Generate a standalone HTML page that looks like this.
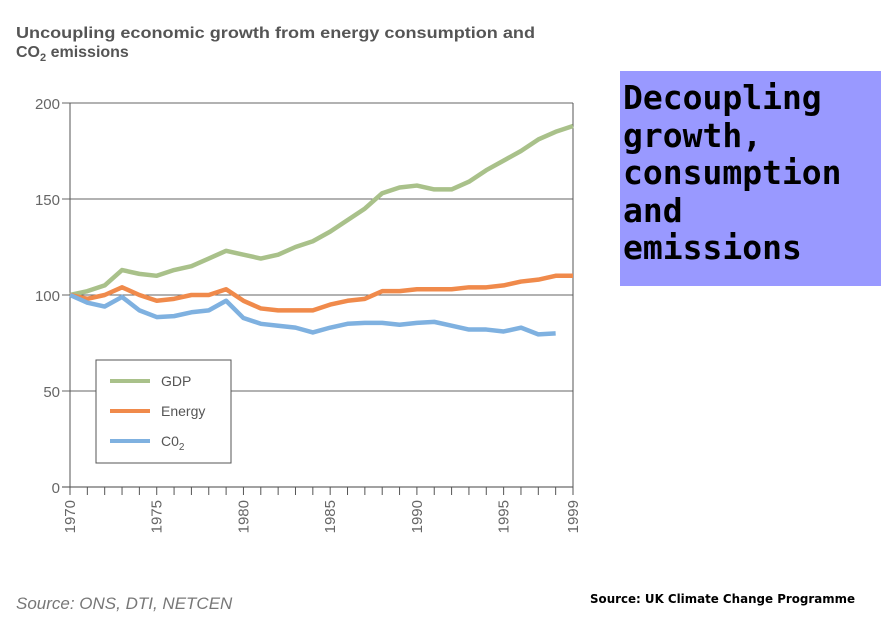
<!DOCTYPE html>
<html><head><meta charset="utf-8"><style>
body{margin:0;width:891px;height:630px;background:#fff;position:relative;overflow:hidden;font-family:"Liberation Sans",sans-serif}
#box{position:absolute;left:620px;top:71px;width:261px;height:215px;background:#9999ff}
#box div{position:absolute;left:3px;top:8px;font-family:"DejaVu Sans Mono",monospace;font-weight:bold;font-size:33px;line-height:37.5px;color:#000}
</style></head><body>
<svg width="891" height="630" style="position:absolute;left:0;top:0">
<text x="16" y="38" font-size="16" font-weight="bold" fill="#555" textLength="519" lengthAdjust="spacingAndGlyphs">Uncoupling economic growth from energy consumption and</text>
<text x="16" y="57" font-size="16" font-weight="bold" fill="#555">CO<tspan font-size="11" dy="4">2</tspan><tspan dy="-4"> emissions</tspan></text>
<g id="grid"></g><g id="series"></g>
<g>
<rect x="96" y="360" width="135" height="103" fill="#fff" stroke="#555" stroke-width="1"/>
<line x1="110" y1="381" x2="150" y2="381" stroke="#a9c18a" stroke-width="4"/>
<text x="161" y="386" font-size="14" fill="#555">GDP</text>
<line x1="110" y1="411" x2="150" y2="411" stroke="#f08a4b" stroke-width="4"/>
<text x="161" y="416" font-size="14" fill="#555">Energy</text>
<line x1="110" y1="441" x2="150" y2="441" stroke="#7fb1e0" stroke-width="4"/>
<text x="161" y="446" font-size="14" fill="#555">C0<tspan font-size="10" dy="4">2</tspan></text>
</g>
<text x="16" y="609" font-size="17" font-style="italic" fill="#777">Source: ONS, DTI, NETCEN</text>
<text x="590" y="603" font-size="12" font-weight="bold" fill="#000" font-family="DejaVu Sans" textLength="265" lengthAdjust="spacingAndGlyphs">Source: UK Climate Change Programme</text>
</svg>
<div id="box"><div>Decoupling<br>growth,<br>consumption<br>and<br>emissions</div></div>
<script>
const years=[1970,1971,1972,1973,1974,1975,1976,1977,1978,1979,1980,1981,1982,1983,1984,1985,1986,1987,1988,1989,1990,1991,1992,1993,1994,1995,1996,1997,1998,1999];
const gdp=[100,102,105,113,111,110,113,115,119,123,121,119,121,125,128,133,139,145,153,156,157,155,155,159,165,170,175,181,185,188];
const energy=[100,98,100,104,100,97,98,100,100,103,97,93,92,92,92,95,97,98,102,102,103,103,103,104,104,105,107,108,110,110];
const co2=[100,96,94,99,92,88.5,89,91,92,97,88,85,84,83,80.5,83,85,85.5,85.5,84.5,85.5,86,84,82,82,81,83,79.5,80];
const yTicks=[0,50,100,150,200];
const xLabels=[1970,1975,1980,1985,1990,1995,1999];
const NS="http://www.w3.org/2000/svg";
const X=y=>70+(y-1970)*(503/29);
const Y=v=>487-v*1.92;
function mk(t,a,p){const e=document.createElementNS(NS,t);for(const k in a)e.setAttribute(k,a[k]);p.appendChild(e);return e;}
const g=document.getElementById('grid');
yTicks.forEach(v=>{
 const l=mk('line',{x1:62,x2:573,y1:Y(v),y2:Y(v),stroke:v===0?'#444':'#666','stroke-width':1},g);
 
 
 const t=mk('text',{x:60,y:Y(v)+6,'text-anchor':'end','font-size':15,fill:'#666'},g);
 t.textContent=v;
 
 
});
mk('line',{x1:70,x2:70,y1:103,y2:495,stroke:'#555'},g);
mk('line',{x1:573,x2:573,y1:103,y2:495,stroke:'#555'},g);
years.forEach(y=>{const l=mk('line',{x1:X(y),x2:X(y),y1:487,y2:495,stroke:'#555'},g);
 
 });
xLabels.forEach(y=>{
 const t=mk('text',{x:0,y:0,'font-size':15,fill:'#666','text-anchor':'end',transform:`translate(${X(y)+5},500) rotate(-90)`},g);
 t.textContent=y;
 
 
});
const s=document.getElementById('series');
[[gdp,'#a9c18a','gdp-line'],[energy,'#f08a4b','energy-line'],[co2,'#7fb1e0','co2-line']].forEach(([d,c,n])=>{
 const pts=d.map((v,i)=>X(years[i])+','+Y(v)).join(' ');
 const p=mk('polyline',{points:pts,fill:'none',stroke:c,'stroke-width':4.5,'stroke-linejoin':'round'},s);
 
 
});
</script>
</body></html>
